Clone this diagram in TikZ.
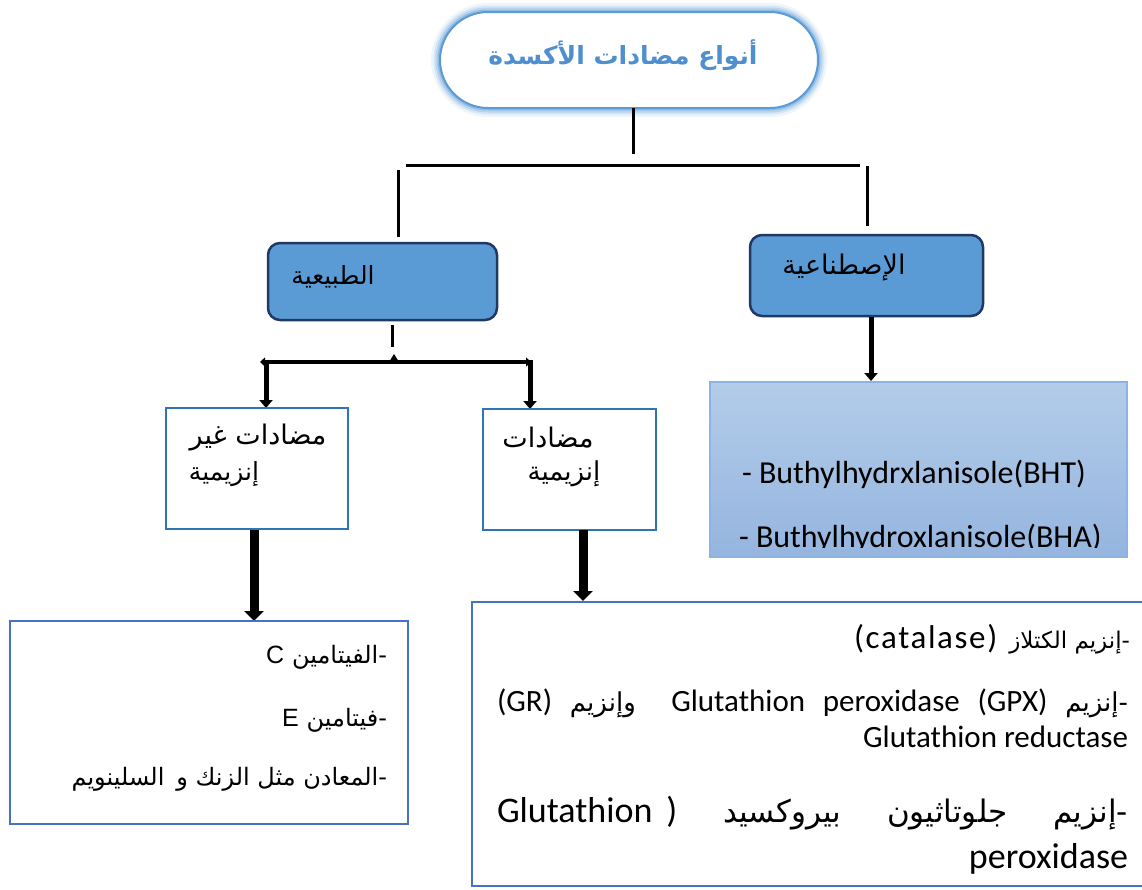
\documentclass[tikz,border=0pt]{standalone}
\usepackage{fontspec}
\usetikzlibrary{arrows.meta}
\TeXXeTstate=1
\newfontfamily\arfont[Script=Arabic]{DejaVu Sans}
\newfontfamily\latfont{Carlito}
\newfontfamily\latwide[LetterSpace=5]{Carlito}
\newfontfamily\arialfont{Liberation Sans}
\newcommand\fsz[1]{\fontsize{#1}{#1}\selectfont}
\definecolor{boxblue}{HTML}{5B9BD5}
\definecolor{darknavy}{HTML}{203864}
\definecolor{midblue}{HTML}{2E75B6}
\definecolor{lineblue}{HTML}{4472C4}
\definecolor{bhttop}{HTML}{B3CCE9}
\definecolor{bhtbot}{HTML}{95B5DF}
\definecolor{bhtborder}{HTML}{8DB3E2}
\definecolor{titleblue}{HTML}{4F8FCF}
\begin{document}
\begin{tikzpicture}[x=1pt,y=-1pt,
  txt/.style={inner sep=0pt, outer sep=0pt},
  bar/.style={line width=3pt, black},
  bluebox/.style={draw=darknavy, line width=2.5pt, fill=boxblue, rounded corners=12pt, inner sep=0pt, outer sep=0pt},
  plainbox/.style={draw=midblue, line width=2pt, fill=white, inner sep=0pt, outer sep=0pt},
  listbox/.style={draw=lineblue, line width=2pt, fill=white, inner sep=0pt, outer sep=0pt},
  thinarrow/.style={line width=5pt, -{Triangle[width=13pt,length=8pt]}},
  fatarrow/.style={line width=9pt, -{Triangle[width=19pt,length=10pt]}}
]
\useasboundingbox (0,0) rectangle (1142,889);

% title with glow
\foreach \w/\o in {18/0.10, 13/0.16, 9/0.25, 5/0.4}
  \draw[boxblue, line width=\w pt, opacity=\o, rounded corners=48pt] (440,12) rectangle (818,108);
\node[draw=boxblue, line width=2pt, fill=white, rounded corners=48pt, minimum width=378pt, minimum height=96pt, inner sep=0pt] (title) at (629,60) {};
\node[txt, text=titleblue] (ttl) at (623,55) {\arfont\bfseries\fsz{25}\beginR أنواع مضادات الأكسدة\endR};

% top connectors
\coordinate (c0) at (633,108); \coordinate (c1) at (633,154);
\coordinate (h0) at (406,165); \coordinate (h1) at (860,165);
\coordinate (l0) at (398,170); \coordinate (l1) at (398,237);
\coordinate (r0) at (867,166); \coordinate (r1) at (867,226);
\draw[bar] (c0) -- (c1);
\draw[bar] (h0) -- (h1);
\draw[bar] (l0) -- (l1);
\draw[bar] (r0) -- (r1);

% blue boxes
\node[bluebox, minimum width=229pt, minimum height=77pt] (nat) at (382.5,281.5) {};
\node[txt] (natT) at (333,277) {\arfont\fsz{25}\beginR الطبيعية\endR};
\node[bluebox, minimum width=233pt, minimum height=81pt] (syn) at (866.5,275.5) {};
\node[txt] (synT) at (844,268) {\arfont\fsz{27}\beginR الإصطناعية\endR};

% synthetic arrow and box
\coordinate (ra0) at (871,317); \coordinate (ra1) at (871,381);
\draw[thinarrow] (ra0) -- (ra1);
\node[draw=bhtborder, line width=1.5pt, top color=bhttop, bottom color=bhtbot, minimum width=417pt, minimum height=175pt, inner sep=0pt] (bht) at (918.5,469.5) {};
\begin{scope}
\clip (710,382) rectangle (1127,547.5);
\node[txt, anchor=base west] (bht1) at (742,483) {\latfont\fsz{32}- Buthylhydrxlanisole(BHT)};
\node[txt, anchor=base west] (bht2) at (739,547) {\latfont\fsz{32}- Buthylhydroxlanisole(BHA)};
\end{scope}

% natural branch connectors
\coordinate (n0) at (392,325); \coordinate (n1) at (392,347);
\draw[bar] (n0) -- (n1);
\coordinate (hl) at (260,362); \coordinate (hr) at (531,362);
\draw[line width=4pt, {Triangle[width=9pt,length=5pt]}-{Triangle[width=9pt,length=5pt]}] (hl) -- (hr);
\fill (389,362) -- (394,354) -- (399,362) -- cycle;
\coordinate (da0) at (266,360); \coordinate (da1) at (266,408);
\coordinate (db0) at (530,360); \coordinate (db1) at (530,409);
\draw[thinarrow] (da0) -- (da1);
\draw[thinarrow] (db0) -- (db1);

% category boxes
\node[plainbox, minimum width=182pt, minimum height=121pt] (boxA) at (257,468.5) {};
\node[txt] (boxA1) at (258,438) {\arfont\fsz{27}\beginR مضادات غير\endR};
\node[txt] (boxA2) at (224,474) {\arfont\fsz{25}\beginR إنزيمية\endR};
\node[plainbox, minimum width=173pt, minimum height=121pt] (boxB) at (569.5,469.5) {};
\node[txt] (boxB1) at (548,438) {\arfont\fsz{27}\beginR مضادات\endR};
\node[txt] (boxB2) at (564,474) {\arfont\fsz{26}\beginR إنزيمية\endR};

% arrows to lists
\coordinate (fa0) at (254,530); \coordinate (fa1) at (254,621);
\coordinate (fb0) at (583,530); \coordinate (fb1) at (583,601);
\draw[fatarrow] (fa0) -- (fa1);
\draw[fatarrow] (fb0) -- (fb1);

% bottom-left list
\node[listbox, minimum width=398pt, minimum height=203pt] (bl) at (209,722.5) {};
\node[txt, anchor=base east] (v1) at (387,663) {\beginR{\arfont\fsz{24}\hbox{-}الفيتامين}\hspace{8pt}{\arialfont\fsz{25}\beginL C\endL}\endR};
\node[txt, anchor=base east] (v2) at (387,726) {\beginR{\arfont\fsz{24}\hbox{-}فيتامين}\hspace{8pt}{\arialfont\fsz{25}\beginL E\endL}\endR};
\node[txt, anchor=base east] (v3) at (387,785) {\beginR{\arfont\fsz{24}\hbox{-}المعادن مثل الزنك و\hspace{12pt}السلينويم}\endR};

% bottom-right list
\node[listbox, minimum width=680pt, minimum height=284pt] (br) at (812,744) {};
\node[txt, anchor=base east] (e1) at (1130,648) {\beginR{\arfont\fsz{23}\hbox{-}إنزيم الكتلاز}\hspace{12pt}{\latwide\fsz{33}\beginL(catalase)\endL}\endR};
\node[txt, anchor=base east] (e2) at (1128,711) {\hbox to 631pt{\beginR{\arfont\fsz{26}\hbox{-}إنزيم}\hfill{\latfont\fsz{31}\beginL(GPX)\endL}\hfill{\latfont\fsz{31}\beginL Glutathion\hfill peroxidase\endL}\hfill\hfill{\arfont\fsz{26}وإنزيم}\hfill{\latfont\fsz{31}\beginL(GR)\endL}\endR}};
\node[txt, anchor=base east] (e3) at (1128,747) {\latfont\fsz{31}Glutathion reductase};
\node[txt, anchor=base east] (e4) at (1128,822) {\hbox to 631pt{\beginR{\arfont\fsz{31}\hbox{-}إنزيم\hfill جلوتاثيون\hfill بيروكسيد}\hfill{\latfont\fsz{36}\hbox{)}\hspace{14pt}\beginL Glutathion\endL}\endR}};
\node[txt, anchor=base east] (e5) at (1128,868) {\latfont\fsz{36}peroxidase};
\end{tikzpicture}
\end{document}
